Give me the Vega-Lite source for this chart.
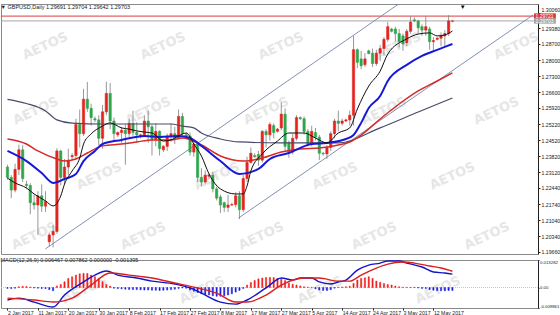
{
"$schema": "https://vega.github.io/schema/vega-lite/v6.json",
"background": "#ffffff",
"padding": {"left": 0, "top": 3, "right": 0, "bottom": 0},
"spacing": 1,
"config": {
  "view": {"stroke": "#8a8a8a", "strokeWidth": 1},
  "axis": {"grid": false, "labelFont": "Liberation Sans", "labelFontSize": 5.2, "labelColor": "#202020", "domainColor": "#202020", "tickColor": "#202020", "tickSize": 2, "labelPadding": 1, "labelOverlap": false},
  "title": {"font": "Liberation Sans", "fontSize": 5.5, "fontWeight": "normal", "color": "#202020", "anchor": "start"}
},
"datasets": {
"bars": [
{"i":0,"o":1.2335,"h":1.2345,"l":1.2280,"c":1.2290,"m":-0.0004},
{"i":1,"o":1.2290,"h":1.2300,"l":1.2200,"c":1.2235,"m":-0.0005},
{"i":2,"o":1.2235,"h":1.2350,"l":1.2225,"c":1.2325,"m":-0.0003},
{"i":3,"o":1.2325,"h":1.2432,"l":1.2300,"c":1.2410,"m":0.0004},
{"i":4,"o":1.2410,"h":1.2430,"l":1.2270,"c":1.2285,"m":0.0006},
{"i":5,"o":1.2260,"h":1.2275,"l":1.2240,"c":1.2255,"m":0.0005},
{"i":6,"o":1.2255,"h":1.2265,"l":1.2130,"c":1.2180,"m":0.0003},
{"i":7,"o":1.2180,"h":1.2215,"l":1.2150,"c":1.2170,"m":-0.0002},
{"i":8,"o":1.2170,"h":1.2230,"l":1.2040,"c":1.2210,"m":-0.0003},
{"i":9,"o":1.2210,"h":1.2260,"l":1.2140,"c":1.2165,"m":-0.0004},
{"i":10,"o":1.2165,"h":1.2230,"l":1.2140,"c":1.2185,"m":-0.0005},
{"i":11,"o":1.2010,"h":1.2050,"l":1.1990,"c":1.2040,"m":-0.0010},
{"i":12,"o":1.2040,"h":1.2085,"l":1.1986,"c":1.2055,"m":-0.0015},
{"i":13,"o":1.2055,"h":1.2417,"l":1.2045,"c":1.2405,"m":0.0008},
{"i":14,"o":1.2405,"h":1.2410,"l":1.2255,"c":1.2290,"m":0.0015},
{"i":15,"o":1.2290,"h":1.2370,"l":1.2260,"c":1.2335,"m":0.0028},
{"i":16,"o":1.2335,"h":1.2415,"l":1.2300,"c":1.2365,"m":0.0044},
{"i":17,"o":1.2380,"h":1.2395,"l":1.2365,"c":1.2385,"m":0.0052},
{"i":18,"o":1.2385,"h":1.2545,"l":1.2370,"c":1.2520,"m":0.0060},
{"i":19,"o":1.2520,"h":1.2585,"l":1.2420,"c":1.2480,"m":0.0066},
{"i":20,"o":1.2480,"h":1.2675,"l":1.2470,"c":1.2630,"m":0.0068},
{"i":21,"o":1.2630,"h":1.2705,"l":1.2575,"c":1.2590,"m":0.0068},
{"i":22,"o":1.2590,"h":1.2610,"l":1.2515,"c":1.2550,"m":0.0060},
{"i":23,"o":1.2545,"h":1.2555,"l":1.2530,"c":1.2540,"m":0.0052},
{"i":24,"o":1.2540,"h":1.2560,"l":1.2430,"c":1.2460,"m":0.0044},
{"i":25,"o":1.2460,"h":1.2605,"l":1.2415,"c":1.2575,"m":0.0028},
{"i":26,"o":1.2575,"h":1.2706,"l":1.2560,"c":1.2655,"m":0.0015},
{"i":27,"o":1.2655,"h":1.2700,"l":1.2500,"c":1.2535,"m":0.0007},
{"i":28,"o":1.2535,"h":1.2550,"l":1.2450,"c":1.2480,"m":-0.0003},
{"i":29,"o":1.2475,"h":1.2490,"l":1.2465,"c":1.2485,"m":-0.0005},
{"i":30,"o":1.2485,"h":1.2510,"l":1.2440,"c":1.2495,"m":-0.0006},
{"i":31,"o":1.2495,"h":1.2520,"l":1.2345,"c":1.2480,"m":-0.0008},
{"i":32,"o":1.2480,"h":1.2545,"l":1.2465,"c":1.2525,"m":-0.0009},
{"i":33,"o":1.2525,"h":1.2580,"l":1.2470,"c":1.2485,"m":-0.0010},
{"i":34,"o":1.2485,"h":1.2530,"l":1.2440,"c":1.2475,"m":-0.0010},
{"i":35,"o":1.2470,"h":1.2480,"l":1.2460,"c":1.2475,"m":-0.0011},
{"i":36,"o":1.2475,"h":1.2560,"l":1.2465,"c":1.2535,"m":-0.0012},
{"i":37,"o":1.2535,"h":1.2580,"l":1.2440,"c":1.2510,"m":-0.0012},
{"i":38,"o":1.2510,"h":1.2520,"l":1.2385,"c":1.2455,"m":-0.0013},
{"i":39,"o":1.2455,"h":1.2525,"l":1.2425,"c":1.2490,"m":-0.0013},
{"i":40,"o":1.2490,"h":1.2495,"l":1.2385,"c":1.2415,"m":-0.0014},
{"i":41,"o":1.2410,"h":1.2430,"l":1.2400,"c":1.2425,"m":-0.0013},
{"i":42,"o":1.2425,"h":1.2480,"l":1.2405,"c":1.2470,"m":-0.0012},
{"i":43,"o":1.2470,"h":1.2525,"l":1.2445,"c":1.2480,"m":-0.0010},
{"i":44,"o":1.2480,"h":1.2510,"l":1.2435,"c":1.2460,"m":-0.0008},
{"i":45,"o":1.2460,"h":1.2585,"l":1.2455,"c":1.2555,"m":-0.0004},
{"i":46,"o":1.2555,"h":1.2570,"l":1.2465,"c":1.2480,"m":-0.0002},
{"i":47,"o":1.2475,"h":1.2485,"l":1.2460,"c":1.2470,"m":-0.0003},
{"i":48,"o":1.2470,"h":1.2485,"l":1.2385,"c":1.2400,"m":-0.0012},
{"i":49,"o":1.2400,"h":1.2450,"l":1.2380,"c":1.2435,"m":-0.0018},
{"i":50,"o":1.2435,"h":1.2445,"l":1.2270,"c":1.2290,"m":-0.0024},
{"i":51,"o":1.2290,"h":1.2330,"l":1.2250,"c":1.2270,"m":-0.0030},
{"i":52,"o":1.2270,"h":1.2320,"l":1.2260,"c":1.2300,"m":-0.0034},
{"i":53,"o":1.2295,"h":1.2305,"l":1.2285,"c":1.2300,"m":-0.0036},
{"i":54,"o":1.2300,"h":1.2315,"l":1.2225,"c":1.2240,"m":-0.0040},
{"i":55,"o":1.2240,"h":1.2250,"l":1.2190,"c":1.2200,"m":-0.0042},
{"i":56,"o":1.2205,"h":1.2215,"l":1.2135,"c":1.2170,"m":-0.0042},
{"i":57,"o":1.2180,"h":1.2185,"l":1.2140,"c":1.2160,"m":-0.0040},
{"i":58,"o":1.2160,"h":1.2215,"l":1.2140,"c":1.2170,"m":-0.0036},
{"i":59,"o":1.2170,"h":1.2180,"l":1.2165,"c":1.2172,"m":-0.0030},
{"i":60,"o":1.2172,"h":1.2225,"l":1.2160,"c":1.2210,"m":-0.0022},
{"i":61,"o":1.2210,"h":1.2230,"l":1.2109,"c":1.2150,"m":-0.0014},
{"i":62,"o":1.2150,"h":1.2300,"l":1.2140,"c":1.2285,"m":-0.0004},
{"i":63,"o":1.2285,"h":1.2380,"l":1.2270,"c":1.2355,"m":0.0012},
{"i":64,"o":1.2355,"h":1.2420,"l":1.2350,"c":1.2395,"m":0.0024},
{"i":65,"o":1.2385,"h":1.2395,"l":1.2375,"c":1.2380,"m":0.0034},
{"i":66,"o":1.2390,"h":1.2405,"l":1.2340,"c":1.2365,"m":0.0042},
{"i":67,"o":1.2365,"h":1.2495,"l":1.2355,"c":1.2490,"m":0.0046},
{"i":68,"o":1.2490,"h":1.2500,"l":1.2420,"c":1.2475,"m":0.0049},
{"i":69,"o":1.2475,"h":1.2530,"l":1.2450,"c":1.2520,"m":0.0049},
{"i":70,"o":1.2515,"h":1.2525,"l":1.2460,"c":1.2485,"m":0.0048},
{"i":71,"o":1.2490,"h":1.2505,"l":1.2485,"c":1.2500,"m":0.0044},
{"i":72,"o":1.2505,"h":1.2615,"l":1.2495,"c":1.2565,"m":0.0040},
{"i":73,"o":1.2565,"h":1.2590,"l":1.2405,"c":1.2425,"m":0.0034},
{"i":74,"o":1.2440,"h":1.2450,"l":1.2375,"c":1.2400,"m":0.0022},
{"i":75,"o":1.2400,"h":1.2480,"l":1.2390,"c":1.2460,"m":0.0016},
{"i":76,"o":1.2460,"h":1.2560,"l":1.2450,"c":1.2550,"m":0.0012},
{"i":77,"o":1.2550,"h":1.2555,"l":1.2540,"c":1.2545,"m":0.0008},
{"i":78,"o":1.2545,"h":1.2555,"l":1.2475,"c":1.2490,"m":0.0004},
{"i":79,"o":1.2490,"h":1.2500,"l":1.2425,"c":1.2435,"m":0.0002},
{"i":80,"o":1.2435,"h":1.2515,"l":1.2425,"c":1.2490,"m":0.0001},
{"i":81,"o":1.2485,"h":1.2505,"l":1.2450,"c":1.2465,"m":-0.0006},
{"i":82,"o":1.2465,"h":1.2475,"l":1.2365,"c":1.2395,"m":-0.0012},
{"i":83,"o":1.2395,"h":1.2400,"l":1.2385,"c":1.2392,"m":-0.0014},
{"i":84,"o":1.2392,"h":1.2430,"l":1.2370,"c":1.2420,"m":-0.0014},
{"i":85,"o":1.2420,"h":1.2490,"l":1.2405,"c":1.2480,"m":-0.0010},
{"i":86,"o":1.2480,"h":1.2545,"l":1.2460,"c":1.2535,"m":-0.0003},
{"i":87,"o":1.2535,"h":1.2580,"l":1.2490,"c":1.2525,"m":0.0002},
{"i":88,"o":1.2525,"h":1.2545,"l":1.2515,"c":1.2535,"m":0.0003},
{"i":89,"o":1.2535,"h":1.2545,"l":1.2530,"c":1.2540,"m":0.0004},
{"i":90,"o":1.2540,"h":1.2580,"l":1.2515,"c":1.2560,"m":0.0006},
{"i":91,"o":1.2560,"h":1.2905,"l":1.2515,"c":1.2845,"m":0.0020},
{"i":92,"o":1.2845,"h":1.2850,"l":1.2765,"c":1.2790,"m":0.0036},
{"i":93,"o":1.2805,"h":1.2840,"l":1.2760,"c":1.2775,"m":0.0044},
{"i":94,"o":1.2780,"h":1.2830,"l":1.2770,"c":1.2805,"m":0.0047},
{"i":95,"o":1.2840,"h":1.2845,"l":1.2825,"c":1.2828,"m":0.0052},
{"i":96,"o":1.2830,"h":1.2850,"l":1.2770,"c":1.2785,"m":0.0044},
{"i":97,"o":1.2785,"h":1.2845,"l":1.2775,"c":1.2830,"m":0.0031},
{"i":98,"o":1.2830,"h":1.2865,"l":1.2795,"c":1.2850,"m":0.0025},
{"i":99,"o":1.2850,"h":1.2900,"l":1.2820,"c":1.2890,"m":0.0020},
{"i":100,"o":1.2890,"h":1.2965,"l":1.2880,"c":1.2945,"m":0.0015},
{"i":101,"o":1.2935,"h":1.2940,"l":1.2920,"c":1.2925,"m":0.0012},
{"i":102,"o":1.2935,"h":1.2945,"l":1.2880,"c":1.2915,"m":0.0007},
{"i":103,"o":1.2915,"h":1.2935,"l":1.2855,"c":1.2880,"m":0.0004},
{"i":104,"o":1.2905,"h":1.2915,"l":1.2840,"c":1.2870,"m":0.0002},
{"i":105,"o":1.2875,"h":1.2935,"l":1.2860,"c":1.2925,"m":0.0001},
{"i":106,"o":1.2925,"h":1.2990,"l":1.2915,"c":1.2965,"m":0.0001},
{"i":107,"o":1.2975,"h":1.2985,"l":1.2965,"c":1.2970,"m":0.0001},
{"i":108,"o":1.2970,"h":1.2975,"l":1.2915,"c":1.2940,"m":-0.0002},
{"i":109,"o":1.2945,"h":1.2955,"l":1.2905,"c":1.2930,"m":-0.0004},
{"i":110,"o":1.2930,"h":1.2990,"l":1.2905,"c":1.2945,"m":-0.0005},
{"i":111,"o":1.2935,"h":1.2945,"l":1.2845,"c":1.2880,"m":-0.0010},
{"i":112,"o":1.2880,"h":1.2900,"l":1.2840,"c":1.2885,"m":-0.0013},
{"i":113,"o":1.2890,"h":1.2900,"l":1.2885,"c":1.2895,"m":-0.0015},
{"i":114,"o":1.2895,"h":1.2920,"l":1.2860,"c":1.2905,"m":-0.0016},
{"i":115,"o":1.2905,"h":1.2930,"l":1.2855,"c":1.2915,"m":-0.0016},
{"i":116,"o":1.2915,"h":1.2995,"l":1.2905,"c":1.2970,"m":-0.0014},
{"i":117,"o":1.29691,"h":1.29704,"l":1.29642,"c":1.29703,"m":-0.001395}
],
"ma": [
{"k":"slow","i":0,"v":1.2629},{"k":"slow","i":5,"v":1.2611},{"k":"slow","i":10,"v":1.2579},{"k":"slow","i":13,"v":1.2540},{"k":"slow","i":17,"v":1.2526},{"k":"slow","i":25,"v":1.2522},{"k":"slow","i":34,"v":1.2522},{"k":"slow","i":43,"v":1.2522},{"k":"slow","i":46,"v":1.2513},{"k":"slow","i":49,"v":1.2505},{"k":"slow","i":51,"v":1.2483},{"k":"slow","i":56,"v":1.2457},{"k":"slow","i":61,"v":1.2444},{"k":"slow","i":72,"v":1.2440},{"k":"slow","i":80,"v":1.2440},{"k":"slow","i":87,"v":1.2440},{"k":"slow","i":98,"v":1.2505},{"k":"slow","i":108,"v":1.2574},{"k":"slow","i":117,"v":1.2635},
{"k":"red","i":0,"v":1.2457},{"k":"red","i":5,"v":1.2435},{"k":"red","i":8,"v":1.2405},{"k":"red","i":13,"v":1.2370},{"k":"red","i":15,"v":1.2361},{"k":"red","i":18,"v":1.2370},{"k":"red","i":21,"v":1.2396},{"k":"red","i":25,"v":1.2427},{"k":"red","i":30,"v":1.2435},{"k":"red","i":34,"v":1.2444},{"k":"red","i":38,"v":1.2453},{"k":"red","i":43,"v":1.2453},{"k":"red","i":46,"v":1.2461},{"k":"red","i":51,"v":1.2431},{"k":"red","i":56,"v":1.2383},{"k":"red","i":62,"v":1.2361},{"k":"red","i":67,"v":1.2374},{"k":"red","i":72,"v":1.2400},{"k":"red","i":77,"v":1.2413},{"k":"red","i":82,"v":1.2418},{"k":"red","i":87,"v":1.2431},{"k":"red","i":90,"v":1.2444},{"k":"red","i":93,"v":1.2474},{"k":"red","i":98,"v":1.2544},{"k":"red","i":103,"v":1.2609},{"k":"red","i":108,"v":1.2666},{"k":"red","i":113,"v":1.2709},{"k":"red","i":117,"v":1.2744},
{"k":"blue","i":0,"v":1.2405},{"k":"blue","i":5,"v":1.2361},{"k":"blue","i":9,"v":1.2309},{"k":"blue","i":12,"v":1.2266},{"k":"blue","i":15,"v":1.2283},{"k":"blue","i":18,"v":1.2305},{"k":"blue","i":20,"v":1.2361},{"k":"blue","i":23,"v":1.2405},{"k":"blue","i":25,"v":1.2435},{"k":"blue","i":30,"v":1.2453},{"k":"blue","i":36,"v":1.2470},{"k":"blue","i":40,"v":1.2466},{"k":"blue","i":45,"v":1.2470},{"k":"blue","i":48,"v":1.2461},{"k":"blue","i":51,"v":1.2427},{"k":"blue","i":56,"v":1.2361},{"k":"blue","i":61,"v":1.2305},{"k":"blue","i":66,"v":1.2327},{"k":"blue","i":69,"v":1.2370},{"k":"blue","i":74,"v":1.2396},{"k":"blue","i":80,"v":1.2435},{"k":"blue","i":84,"v":1.2440},{"k":"blue","i":89,"v":1.2457},{"k":"blue","i":91,"v":1.2474},{"k":"blue","i":93,"v":1.2527},{"k":"blue","i":95,"v":1.2592},{"k":"blue","i":98,"v":1.2644},{"k":"blue","i":100,"v":1.2709},{"k":"blue","i":105,"v":1.2779},{"k":"blue","i":109,"v":1.2818},{"k":"blue","i":113,"v":1.2844},{"k":"blue","i":117,"v":1.2870},
{"k":"black","i":0,"v":1.2287},{"k":"black","i":2,"v":1.2266},{"k":"black","i":5,"v":1.2244},{"k":"black","i":7,"v":1.2218},{"k":"black","i":10,"v":1.2188},{"k":"black","i":12,"v":1.2166},{"k":"black","i":14,"v":1.2209},{"k":"black","i":15,"v":1.2261},{"k":"black","i":17,"v":1.2318},{"k":"black","i":19,"v":1.2374},{"k":"black","i":20,"v":1.2435},{"k":"black","i":22,"v":1.2479},{"k":"black","i":25,"v":1.2513},{"k":"black","i":27,"v":1.2527},{"k":"black","i":30,"v":1.2505},{"k":"black","i":32,"v":1.2500},{"k":"black","i":34,"v":1.2492},{"k":"black","i":36,"v":1.2487},{"k":"black","i":38,"v":1.2483},{"k":"black","i":41,"v":1.2448},{"k":"black","i":43,"v":1.2453},{"k":"black","i":44,"v":1.2461},{"k":"black","i":47,"v":1.2483},{"k":"black","i":49,"v":1.2435},{"k":"black","i":51,"v":1.2383},{"k":"black","i":53,"v":1.2305},{"k":"black","i":56,"v":1.2240},{"k":"black","i":60,"v":1.2218},{"k":"black","i":62,"v":1.2218},{"k":"black","i":63,"v":1.2253},{"k":"black","i":64,"v":1.2318},{"k":"black","i":67,"v":1.2392},{"k":"black","i":71,"v":1.2448},{"k":"black","i":74,"v":1.2483},{"k":"black","i":78,"v":1.2483},{"k":"black","i":81,"v":1.2461},{"k":"black","i":84,"v":1.2440},{"k":"black","i":87,"v":1.2483},{"k":"black","i":90,"v":1.2505},{"k":"black","i":92,"v":1.2587},{"k":"black","i":95,"v":1.2687},{"k":"black","i":98,"v":1.2752},{"k":"black","i":100,"v":1.2826},{"k":"black","i":105,"v":1.2892},{"k":"black","i":108,"v":1.2913},{"k":"black","i":111,"v":1.2918},{"k":"black","i":113,"v":1.2905},{"k":"black","i":115,"v":1.2909},{"k":"black","i":117,"v":1.2926}
],
"macd": [
{"k":"macd","i":0,"v":-0.0060},{"k":"macd","i":3,"v":-0.0051},{"k":"macd","i":7,"v":-0.0070},{"k":"macd","i":12,"v":-0.0094},{"k":"macd","i":15,"v":-0.0036},{"k":"macd","i":20,"v":0.0027},{"k":"macd","i":23,"v":0.0060},{"k":"macd","i":26,"v":0.0080},{"k":"macd","i":29,"v":0.0060},{"k":"macd","i":34,"v":0.0046},{"k":"macd","i":38,"v":0.0031},{"k":"macd","i":44,"v":0.0017},{"k":"macd","i":48,"v":-0.0002},{"k":"macd","i":51,"v":-0.0027},{"k":"macd","i":56,"v":-0.0070},{"k":"macd","i":60,"v":-0.0080},{"k":"macd","i":63,"v":-0.0060},{"k":"macd","i":68,"v":-0.0002},{"k":"macd","i":72,"v":0.0046},{"k":"macd","i":75,"v":0.0036},{"k":"macd","i":77,"v":0.0046},{"k":"macd","i":80,"v":0.0046},{"k":"macd","i":82,"v":0.0027},{"k":"macd","i":85,"v":0.0017},{"k":"macd","i":87,"v":0.0027},{"k":"macd","i":89,"v":0.0036},{"k":"macd","i":92,"v":0.0084},{"k":"macd","i":95,"v":0.0108},{"k":"macd","i":98,"v":0.0118},{"k":"macd","i":100,"v":0.0128},{"k":"macd","i":103,"v":0.0128},{"k":"macd","i":105,"v":0.0118},{"k":"macd","i":109,"v":0.0099},{"k":"macd","i":112,"v":0.0075},{"k":"macd","i":115,"v":0.0070},{"k":"macd","i":117,"v":0.006467},
{"k":"signal","i":0,"v":-0.0051},{"k":"signal","i":7,"v":-0.0060},{"k":"signal","i":12,"v":-0.0070},{"k":"signal","i":17,"v":-0.0051},{"k":"signal","i":22,"v":0.0012},{"k":"signal","i":27,"v":0.0070},{"k":"signal","i":32,"v":0.0060},{"k":"signal","i":38,"v":0.0046},{"k":"signal","i":44,"v":0.0022},{"k":"signal","i":49,"v":0.0002},{"k":"signal","i":55,"v":-0.0027},{"k":"signal","i":60,"v":-0.0070},{"k":"signal","i":63,"v":-0.0070},{"k":"signal","i":68,"v":-0.0036},{"k":"signal","i":72,"v":0.0012},{"k":"signal","i":78,"v":0.0046},{"k":"signal","i":82,"v":0.0046},{"k":"signal","i":87,"v":0.0031},{"k":"signal","i":90,"v":0.0031},{"k":"signal","i":93,"v":0.0060},{"k":"signal","i":97,"v":0.0094},{"k":"signal","i":100,"v":0.0113},{"k":"signal","i":104,"v":0.0123},{"k":"signal","i":107,"v":0.0118},{"k":"signal","i":111,"v":0.0104},{"k":"signal","i":114,"v":0.0094},{"k":"signal","i":117,"v":0.007862}
],
"trend": [
{"g":"A","i":9.94,"p":1.19789},{"g":"A","i":104,"p":1.30568},
{"g":"B","i":60.77,"p":1.21136},{"g":"B","i":138.2,"p":1.29958}
],
"hlines": [{"k":"ask","p":1.2991},{"k":"bid","p":1.2970}],
"plabels": [{"k":"ask","p":1.2991,"t":"1.29721","i":138.45,"j":144.2},{"k":"bid","p":1.2970,"t":"1.29703","i":138.45,"j":144.2}],
"ann": [{"i":119.7,"p":1.3031,"t":"▼"}],
"zero": [{"v":0}],
"wm1": [
{"i":9.9,"p":1.2861},{"i":40.9,"p":1.2861},{"i":71.9,"p":1.2861},{"i":102.8,"p":1.2861},{"i":133.8,"p":1.2861},
{"i":7.4,"p":1.2579},{"i":37.0,"p":1.2579},{"i":68.0,"p":1.2579},{"i":99.0,"p":1.2579},{"i":128.6,"p":1.2579},
{"i":24.1,"p":1.2296},{"i":55.1,"p":1.2296},{"i":86.1,"p":1.2296},{"i":117.0,"p":1.2296},
{"i":7.0,"p":1.2036},{"i":35.7,"p":1.2036},{"i":66.7,"p":1.2036},{"i":96.4,"p":1.2036},{"i":126.1,"p":1.2036}
],
"wm2": [{"i":20.3,"v":-0.0012},{"i":51.2,"v":-0.0012},{"i":82.2,"v":-0.0012},{"i":113.2,"v":-0.0012}]
},
"vconcat": [
{
"width": 537, "height": 250,
"title": {"text": "▼  GBPUSD,Daily  1.29691 1.29704 1.29642 1.29703", "offset": -7},
"layer": [
{"data": {"name": "wm1"}, "mark": {"type": "text", "angle": -25, "fontSize": 13, "fontWeight": "bold", "font": "DejaVu Sans", "color": "#e6e6e6", "clip": true},
 "encoding": {"x": {"field": "i", "type": "quantitative", "scale": {"domain": [-0.387, 138.19], "nice": false, "zero": false}, "axis": null},
  "y": {"field": "p", "type": "quantitative", "scale": {"domain": [1.19571, 1.30436], "nice": false, "zero": false}, "title": null,
   "axis": {"orient": "right", "values": [1.3006, 1.2938, 1.287, 1.28, 1.273, 1.266, 1.2592, 1.2522, 1.2452, 1.2382, 1.2312, 1.2244, 1.2174, 1.2104, 1.2034, 1.1966], "tickCount": 100, "format": ".5f", "title": null, "labelOverlap": false, "labelBound": false,
    "labelBaseline": {"condition": {"test": "datum.value > 1.3", "value": "bottom"}, "value": "middle"}}},
  "text": {"value": "AETOS"}}},
{"data": {"name": "hlines"}, "mark": {"type": "rule", "strokeWidth": 1},
 "encoding": {"y": {"field": "p", "type": "quantitative", "title": null},
  "color": {"field": "k", "type": "nominal", "scale": {"domain": ["ask", "bid"], "range": ["#e03a3a", "#a6a6a6"]}, "legend": null}}},
{"data": {"name": "trend"}, "mark": {"type": "line", "strokeWidth": 0.9, "color": "#7483aa", "clip": true},
 "encoding": {"x": {"field": "i", "type": "quantitative", "axis": null}, "y": {"field": "p", "type": "quantitative", "title": null}, "detail": {"field": "g", "type": "nominal"}}},
{"data": {"name": "bars"}, "mark": {"type": "rule", "strokeWidth": 0.8, "color": "#7c7c7c"},
 "encoding": {"x": {"field": "i", "type": "quantitative", "axis": null},
  "y": {"field": "l", "type": "quantitative", "title": null}, "y2": {"field": "h"}}},
{"data": {"name": "bars"}, "transform": [{"filter": "datum.c >= datum.o"}], "mark": {"type": "bar", "width": 2.3, "strokeWidth": 0.6, "color": "#e3241e", "stroke": "#e3241e"},
 "encoding": {"x": {"field": "i", "type": "quantitative", "axis": null},
  "y": {"field": "o", "type": "quantitative", "title": null}, "y2": {"field": "c"}}},
{"data": {"name": "bars"}, "transform": [{"filter": "datum.c < datum.o"}], "mark": {"type": "bar", "width": 2.3, "strokeWidth": 0.6, "color": "#2fa64c", "stroke": "#2fa64c"},
 "encoding": {"x": {"field": "i", "type": "quantitative", "axis": null},
  "y": {"field": "o", "type": "quantitative", "title": null}, "y2": {"field": "c"}}},
{"data": {"name": "ma"}, "transform": [{"filter": "datum.k == 'slow'"}], "mark": {"type": "line", "interpolate": "monotone", "color": "#4a4a6a", "strokeWidth": 1.2},
 "encoding": {"x": {"field": "i", "type": "quantitative", "axis": null}, "y": {"field": "v", "type": "quantitative", "title": null}}},
{"data": {"name": "ma"}, "transform": [{"filter": "datum.k == 'red'"}], "mark": {"type": "line", "interpolate": "monotone", "color": "#d42a2a", "strokeWidth": 1.5},
 "encoding": {"x": {"field": "i", "type": "quantitative", "axis": null}, "y": {"field": "v", "type": "quantitative", "title": null}}},
{"data": {"name": "ma"}, "transform": [{"filter": "datum.k == 'blue'"}], "mark": {"type": "line", "interpolate": "monotone", "color": "#1818d8", "strokeWidth": 2},
 "encoding": {"x": {"field": "i", "type": "quantitative", "axis": null}, "y": {"field": "v", "type": "quantitative", "title": null}}},
{"data": {"name": "ma"}, "transform": [{"filter": "datum.k == 'black'"}], "mark": {"type": "line", "interpolate": "monotone", "color": "#101010", "strokeWidth": 1},
 "encoding": {"x": {"field": "i", "type": "quantitative", "axis": null}, "y": {"field": "v", "type": "quantitative", "title": null}}},
{"data": {"name": "plabels"}, "mark": {"type": "rule", "strokeWidth": 5.5},
 "encoding": {"x": {"field": "i", "type": "quantitative", "axis": null}, "x2": {"field": "j"},
  "y": {"field": "p", "type": "quantitative", "title": null},
  "color": {"field": "k", "type": "nominal", "scale": {"domain": ["ask", "bid"], "range": ["#e0201c", "#000000"]}, "legend": null}}},
{"data": {"name": "plabels"}, "mark": {"type": "text", "align": "left", "baseline": "middle", "fontSize": 5, "font": "Liberation Sans", "color": "#ffffff", "dx": 1.5},
 "encoding": {"x": {"field": "i", "type": "quantitative", "axis": null}, "y": {"field": "p", "type": "quantitative", "title": null}, "text": {"field": "t", "type": "nominal"}}},
{"data": {"name": "ann"}, "mark": {"type": "text", "fontSize": 6, "color": "#000000"},
 "encoding": {"x": {"field": "i", "type": "quantitative", "axis": null}, "y": {"field": "p", "type": "quantitative", "title": null}, "text": {"field": "t", "type": "nominal"}}}
]
},
{
"width": 537, "height": 48,
"title": {"text": "MACD(12,26,9) 0.006467 0.007862 0.000000 -0.001395", "offset": -5},
"layer": [
{"data": {"name": "wm2"}, "mark": {"type": "text", "angle": -25, "fontSize": 13, "fontWeight": "bold", "font": "DejaVu Sans", "color": "#e6e6e6", "clip": true},
 "encoding": {"x": {"field": "i", "type": "quantitative", "scale": {"domain": [-0.387, 138.19], "nice": false, "zero": false}, "title": null,
   "axis": {"values": [0, 8, 16, 24, 32, 40, 48, 56, 64, 72, 80, 88, 96, 104, 112], "tickCount": 100, "labelAlign": "left", "labelPadding": 0.5, "domain": false, "tickSize": 2, "title": null, "labelOverlap": false, "labelBound": false,
    "labelExpr": "['2 Jan 2017','11 Jan 2017','20 Jan 2017','30 Jan 2017','8 Feb 2017','17 Feb 2017','27 Feb 2017','8 Mar 2017','17 Mar 2017','27 Mar 2017','5 Apr 2017','14 Apr 2017','24 Apr 2017','3 May 2017','12 May 2017'][round(datum.value/8)]"}},
  "y": {"field": "v", "type": "quantitative", "scale": {"domain": [-0.009861, 0.013282], "nice": false, "zero": false}, "title": null,
   "axis": {"orient": "right", "values": [0.013282, 0, -0.009861], "tickCount": 100, "labelFlush": true, "labelFontSize": 4.3, "tickSize": 1, "labelPadding": 0.5, "title": null, "labelOverlap": false, "labelExpr": "datum.value > 0.01 ? '0.013282' : (datum.value < -0.009 ? '-0.009861' : '0.00')"}},
  "text": {"value": "AETOS"}}},
{"data": {"name": "zero"}, "mark": {"type": "rule", "color": "#c4c4c4", "strokeDash": [1, 1]}, "encoding": {"y": {"field": "v", "type": "quantitative", "title": null}}},
{"data": {"name": "bars"}, "transform": [{"filter": "datum.m >= 0"}], "mark": {"type": "bar", "width": 1.2, "strokeWidth": 0.5, "color": "#ee1c1c", "stroke": "#ee1c1c"},
 "encoding": {"x": {"field": "i", "type": "quantitative", "title": null}, "y": {"field": "m", "type": "quantitative", "title": null}}},
{"data": {"name": "bars"}, "transform": [{"filter": "datum.m < 0"}], "mark": {"type": "bar", "width": 1.2, "strokeWidth": 0.5, "color": "#1a1ae0", "stroke": "#1a1ae0"},
 "encoding": {"x": {"field": "i", "type": "quantitative", "title": null}, "y": {"field": "m", "type": "quantitative", "title": null}}},
{"data": {"name": "macd"}, "transform": [{"filter": "datum.k == 'macd'"}], "mark": {"type": "line", "interpolate": "monotone", "strokeWidth": 1.4, "color": "#1414c8"},
 "encoding": {"x": {"field": "i", "type": "quantitative", "title": null}, "y": {"field": "v", "type": "quantitative", "title": null}}},
{"data": {"name": "macd"}, "transform": [{"filter": "datum.k == 'signal'"}], "mark": {"type": "line", "interpolate": "monotone", "strokeWidth": 1.4, "color": "#dd1e1e"},
 "encoding": {"x": {"field": "i", "type": "quantitative", "title": null}, "y": {"field": "v", "type": "quantitative", "title": null}}}
]
}
]
}
